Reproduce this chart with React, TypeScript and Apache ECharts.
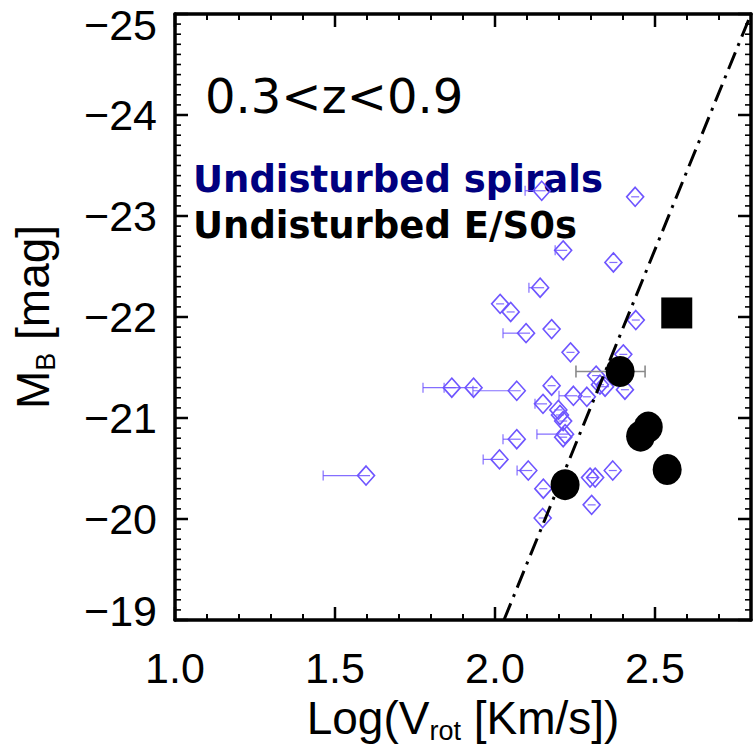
import React, { useEffect, useRef } from "react";
import * as echarts from "echarts";

// Undisturbed spirals: log rotation velocity, absolute B magnitude, lower end of error bar (null = none)
const spiralLogV = [2.146, 2.438, 2.213, 2.37, 2.141, 2.016, 2.049, 2.097, 2.177, 2.44, 2.236, 2.401, 1.865, 1.933, 2.068, 2.177, 2.316, 2.328, 2.344, 2.406, 2.245, 2.287, 2.15, 2.198, 2.203, 2.213, 2.219, 2.213, 2.068, 2.014, 2.104, 2.368, 2.297, 2.313, 2.151, 2.302, 2.149, 1.597];
const spiralMB = [-23.25, -23.19, -22.66, -22.54, -22.29, -22.13, -22.05, -21.84, -21.88, -21.97, -21.65, -21.63, -21.3, -21.3, -21.27, -21.32, -21.42, -21.33, -21.31, -21.28, -21.22, -21.21, -21.14, -21.08, -21.03, -20.97, -20.84, -20.81, -20.79, -20.59, -20.48, -20.48, -20.41, -20.41, -20.3, -20.14, -20.01, -20.43];
const spiralLogVLow: (number | null)[] = [2.094, null, 2.188, null, 2.106, null, null, 2.025, null, null, null, null, 1.775, 1.841, 1.931, null, null, null, null, null, 2.2, null, 2.125, null, null, null, 2.131, null, 2.025, 1.963, 2.069, null, null, null, null, null, null, 1.463];

// Undisturbed E/S0s (circles)
const es0LogV = [2.391, 2.479, 2.455, 2.538, 2.219];
const es0MB = [-21.46, -20.91, -20.82, -20.49, -20.34];
const es0LogVLow: (number | null)[] = [2.253, null, null, null, null];
const es0LogVHigh: (number | null)[] = [2.469, null, null, null, null];

// E/S0 (square)
const sqLogV = [2.568];
const sqMB = [-22.04];

// Reference relation (dash-dot line)
const relLogV = [2.028, 2.8];
const relMB = [-19, -25];

// Axis ticks and labels
const xTickLabels = ["1.0", "1.5", "2.0", "2.5"];
const yTickLabels = ["−25", "−24", "−23", "−22", "−21", "−20", "−19"];
const X_MIN = 1.0;
const X_MAX = 2.8;
const Y_TOP = -25;
const Y_BOTTOM = -19;

const BLUE = "#6e55ff";
const LABEL_FONT = "Liberation Sans";

export default function App() {
  const ref = useRef<HTMLDivElement>(null);
  useEffect(() => {
    if (!ref.current) return;
    const chart = echarts.init(ref.current, undefined, { renderer: "svg" });

    const spiralErr = spiralLogV.map((x, i) => [x, spiralMB[i], spiralLogVLow[i] ?? x]);
    const es0Err = es0LogV
      .map((x, i) => [x, es0MB[i], es0LogVLow[i], es0LogVHigh[i]])
      .filter((d) => d[2] != null);

    // frame tick positions (axis decoration), drawn as small inward bars on the frame
    const xVals: number[] = [];
    for (let k = 0; k <= 17; k++) xVals.push(+(X_MIN + k * 0.1).toFixed(2));
    const yVals: number[] = [];
    for (let k = 0; k <= 60; k++) yVals.push(+(Y_TOP + k * 0.1).toFixed(2));
    const isXMajor = (v: number) => Math.abs(v * 2 - Math.round(v * 2)) < 1e-6;
    const isYMajor = (v: number) => Math.abs(v - Math.round(v)) < 1e-6;

    const tickSeries = (data: number[][], side: "bottom" | "top" | "left" | "right", len: number, w: number) => {
      const vertical = side === "bottom" || side === "top";
      const offset =
        side === "bottom" ? [0, -len / 2] : side === "top" ? [0, len / 2] : side === "left" ? [len / 2, 0] : [-len / 2, 0];
      return {
        type: "scatter",
        name: "ticks",
        silent: true,
        clip: false,
        z: 20,
        symbol: "rect",
        symbolSize: vertical ? [w, len] : [len, w],
        symbolOffset: offset,
        itemStyle: { color: "#000", opacity: 1 },
        data,
      };
    };
    const xMajorVals = xVals.filter(isXMajor);
    const xMinorVals = xVals.filter((v) => !isXMajor(v));
    const yMajorVals = yVals.filter(isYMajor);
    const yMinorVals = yVals.filter((v) => !isYMajor(v));
    const ticks = [
      tickSeries(xMajorVals.map((v) => [v, Y_BOTTOM]), "bottom", 13, 2.5),
      tickSeries(xMinorVals.map((v) => [v, Y_BOTTOM]), "bottom", 6, 2),
      tickSeries(xMajorVals.map((v) => [v, Y_TOP]), "top", 13, 2.5),
      tickSeries(xMinorVals.map((v) => [v, Y_TOP]), "top", 6, 2),
      tickSeries(yMajorVals.map((v) => [X_MIN, v]), "left", 13, 2.5),
      tickSeries(yMinorVals.map((v) => [X_MIN, v]), "left", 6, 1.6),
      tickSeries(yMajorVals.map((v) => [X_MAX, v]), "right", 13, 2.5),
      tickSeries(yMinorVals.map((v) => [X_MAX, v]), "right", 6, 1.6),
    ];

    const axisLine = { show: true, onZero: false, lineStyle: { color: "#000", width: 3.5 } };
    const xFmt = (v: number) => {
      const k = Math.round((v - 1) / 0.5);
      return Math.abs(v - (1 + k * 0.5)) < 1e-6 && k >= 0 && k < xTickLabels.length ? xTickLabels[k] : "";
    };
    const yFmt = (v: number) => {
      const k = Math.round(v + 25);
      const t = yTickLabels[k] ?? "";
      if (k === 0) return "{t|" + t + "}";
      if (k === 6) return "{b|" + t + "}";
      return "{n|" + t + "}";
    };
    const lblRich = {
      n: { fontSize: 43, fontFamily: LABEL_FONT, color: "#000" },
      t: { fontSize: 43, fontFamily: LABEL_FONT, color: "#000", padding: [22, 0, 0, 0] },
      b: { fontSize: 43, fontFamily: LABEL_FONT, color: "#000", padding: [0, 0, 18, 0] },
    };
    const titleRich = {
      a: { fontSize: 46, fontFamily: LABEL_FONT, color: "#000", lineHeight: 52 },
      s: { fontSize: 27, fontFamily: LABEL_FONT, color: "#000", verticalAlign: "bottom", lineHeight: 27 },
    };

    const xAx = (pos: "bottom" | "top", labels: boolean) => ({
      type: "value",
      position: pos,
      min: X_MIN,
      max: X_MAX,
      interval: 0.1,
      axisLine,
      axisTick: { show: false },
      splitLine: { show: false },
      axisLabel: labels
        ? { show: true, formatter: xFmt, fontSize: 43, fontFamily: LABEL_FONT, color: "#000", margin: 26, showMinLabel: true, showMaxLabel: false }
        : { show: false },
      ...(labels
        ? {
            name: "{a|Log(V}{s|rot}{a| [Km/s])}",
            nameLocation: "middle",
            nameGap: 72,
            nameTextStyle: { rich: titleRich },
          }
        : {}),
    });
    const yAx = (pos: "left" | "right", labels: boolean) => ({
      type: "value",
      position: pos,
      inverse: true,
      min: Y_TOP,
      max: Y_BOTTOM,
      interval: 1,
      axisLine,
      axisTick: { show: false },
      splitLine: { show: false },
      axisLabel: labels
        ? { show: true, formatter: yFmt, margin: 18, showMinLabel: true, showMaxLabel: true, rich: lblRich }
        : { show: false },
      ...(labels
        ? {
            name: "{a|M}{s|B}{a| [mag]}",
            nameLocation: "middle",
            nameRotate: 90,
            nameGap: 116,
            nameTextStyle: { rich: titleRich },
          }
        : {}),
    });

    const option: any = {
      animation: false,
      backgroundColor: "#fff",
      grid: { left: 175, right: 2, top: 14, bottom: 128, containLabel: false },
      xAxis: [xAx("bottom", true), xAx("top", false)],
      yAxis: [yAx("left", true), yAx("right", false)],
      graphic: [
        {
          type: "text",
          left: 205,
          top: 72,
          style: { text: "0.3<z<0.9", font: "48px 'DejaVu Sans'", fill: "#000" },
        },
        {
          type: "text",
          left: 193,
          top: 161,
          style: { text: "Undisturbed spirals", font: "bold 37px 'DejaVu Sans'", fill: "#00007f" },
        },
        {
          type: "text",
          left: 193,
          top: 207,
          style: { text: "Undisturbed E/S0s", font: "bold 37px 'DejaVu Sans'", fill: "#000" },
        },
      ],
      series: [
        ...ticks,
        {
          type: "custom",
          name: "spiral errors",
          z: 2,
          data: spiralErr,
          encode: { x: [0, 2], y: 1 },
          renderItem: (params: any, api: any) => {
            const c = api.coord([api.value(0), api.value(1)]);
            const lo = api.coord([api.value(2), api.value(1)]);
            const hasBar = lo[0] < c[0] - 1;
            const x1 = hasBar ? lo[0] : c[0] - 4;
            const st = { stroke: BLUE, lineWidth: 1.2, opacity: 0.85 };
            const children: any[] = [{ type: "line", shape: { x1, y1: c[1], x2: c[0] + 4, y2: c[1] }, style: st }];
            if (hasBar) children.push({ type: "line", shape: { x1: lo[0], y1: c[1] - 5, x2: lo[0], y2: c[1] + 5 }, style: st });
            return { type: "group", children };
          },
        },
        {
          type: "scatter",
          name: "Undisturbed spirals",
          z: 3,
          symbol: "diamond",
          symbolSize: [17, 19],
          itemStyle: { color: "rgba(0,0,0,0)", borderColor: BLUE, borderWidth: 1.6, opacity: 1 },
          data: spiralLogV.map((x, i) => [x, spiralMB[i]]),
        },
        {
          type: "custom",
          name: "E/S0 errors",
          z: 4,
          data: es0Err,
          encode: { x: [0, 2, 3], y: 1 },
          renderItem: (params: any, api: any) => {
            const lo = api.coord([api.value(2), api.value(1)]);
            const hi = api.coord([api.value(3), api.value(1)]);
            const st = { stroke: "#8a8a8a", lineWidth: 1.6 };
            return {
              type: "group",
              children: [
                { type: "line", shape: { x1: lo[0], y1: lo[1], x2: hi[0], y2: hi[1] }, style: st },
                { type: "line", shape: { x1: lo[0], y1: lo[1] - 6, x2: lo[0], y2: lo[1] + 6 }, style: st },
                { type: "line", shape: { x1: hi[0], y1: hi[1] - 6, x2: hi[0], y2: hi[1] + 6 }, style: st },
              ],
            };
          },
        },
        {
          type: "line",
          name: "relation",
          z: 5,
          symbol: "none",
          clip: true,
          lineStyle: { color: "#000", width: 3, type: [18, 7, 3, 7], opacity: 1 },
          data: relLogV.map((x, i) => [x, relMB[i]]),
        },
        {
          type: "scatter",
          name: "Undisturbed E/S0s",
          z: 6,
          symbol: "circle",
          symbolSize: [29, 31],
          itemStyle: { color: "#000", opacity: 1 },
          data: es0LogV.map((x, i) => [x, es0MB[i]]),
        },
        {
          type: "scatter",
          name: "E/S0 square",
          z: 6,
          symbol: "rect",
          symbolSize: [31, 31],
          itemStyle: { color: "#000", opacity: 1 },
          data: sqLogV.map((x, i) => [x, sqMB[i]]),
        },
      ],
    };
    chart.setOption(option);
    return () => chart.dispose();
  }, []);
  return (
    <div
      ref={ref}
      style={{ position: "absolute", left: 0, top: 0, width: 753, height: 749, background: "#fff" }}
    />
  );
}
